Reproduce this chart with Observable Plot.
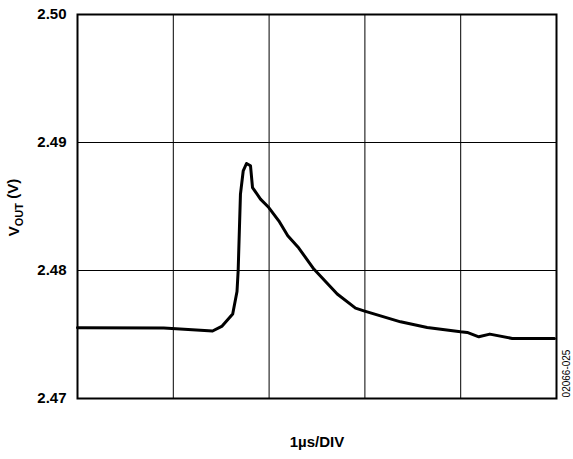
<!DOCTYPE html>
<html><head><meta charset="utf-8">
<script src="https://cdn.jsdelivr.net/npm/d3@7"></script>
<script src="https://cdn.jsdelivr.net/npm/@observablehq/plot@0.6"></script>
<style>body{margin:0;background:#fff}</style>
</head><body><div id="chart"></div>
<script>
const timeUs = [0, 0.90, 1.41, 1.51, 1.62, 1.665, 1.677, 1.701, 1.730, 1.764, 1.806, 1.827, 1.910, 1.997, 2.101, 2.195, 2.310, 2.467, 2.711, 2.902, 2.989, 3.163, 3.372, 3.650, 3.998, 4.068, 4.189, 4.304, 4.538, 4.979];
const vout = [2.47552, 2.4755, 2.47527, 2.47566, 2.4766, 2.47836, 2.47998, 2.48597, 2.48779, 2.48836, 2.48818, 2.48648, 2.48558, 2.48492, 2.48388, 2.48271, 2.48175, 2.48011, 2.47816, 2.47706, 2.47685, 2.47646, 2.47599, 2.47555, 2.47521, 2.47516, 2.47482, 2.47503, 2.47469, 2.47469];
const yTicks = [2.47, 2.48, 2.49, 2.50];
const xGrid = [1, 2, 3, 4];
const xLabel = "1µs/DIV";
const yLabel = "VOUT (V)";
const figCode = "02066-025";

const data = timeUs.map((t, i) => ({t, v: vout[i]}));
const font = "'Liberation Sans', Arial, sans-serif";
const chart = Plot.plot({
  width: 573, height: 459,
  marginLeft: 77, marginRight: 17, marginTop: 14, marginBottom: 61,
  style: {fontFamily: font, fontSize: "15px", fontWeight: "bold", background: "#fff", color: "#000"},
  x: {domain: [0, 5], axis: null},
  y: {domain: [2.47, 2.50], ticks: yTicks, tickFormat: d => d.toFixed(2), tickSize: 0, tickPadding: 11, label: null},
  marks: [
    Plot.ruleX(xGrid, {stroke: "#000", strokeWidth: 1}),
    Plot.ruleY(yTicks.slice(1, -1), {stroke: "#000", strokeWidth: 1}),
    Plot.line(data, {x: "t", y: "v", stroke: "#000", strokeWidth: 3, strokeLinejoin: "round", strokeLinecap: "round"}),
    Plot.frame({stroke: "#000", strokeWidth: 2}),
    Plot.text([xLabel], {frameAnchor: "bottom", dy: 48, fontSize: 15, fontWeight: "bold", fill: "#000"}),
    Plot.text([yLabel], {frameAnchor: "left", textAnchor: "middle", dx: -63, dy: 1, rotate: -90, fontSize: 15, fontWeight: "bold", fill: "#000"}),
    Plot.text([figCode], {frameAnchor: "right", textAnchor: "middle", dx: 10, dy: 167, rotate: -90, fontSize: 10, fontWeight: "normal", fill: "#000"})
  ]
});
document.getElementById("chart").appendChild(chart);
// subscript for V_OUT
d3.select(chart).selectAll("text").each(function () {
  if (this.textContent === yLabel) {
    const t = d3.select(this);
    t.text(null);
    t.append("tspan").text("V");
    t.append("tspan").attr("font-size", 11).attr("dy", "0.3em").text("OUT");
    t.append("tspan").attr("dy", "-0.3em").text(" (V)");
  }
});
</script>
</body></html>
